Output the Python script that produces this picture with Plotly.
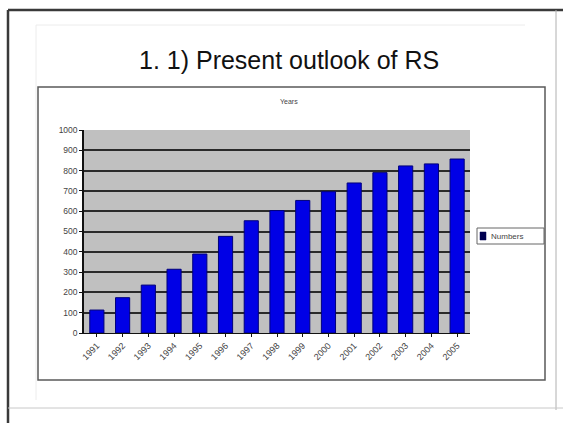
import plotly.graph_objects as go

# Data
years = ["1991", "1992", "1993", "1994", "1995", "1996", "1997", "1998",
         "1999", "2000", "2001", "2002", "2003", "2004", "2005"]
numbers = [113, 174, 236, 314, 389, 476, 553, 603,
           653, 696, 739, 790, 823, 833, 857]
y_ticks = [0, 100, 200, 300, 400, 500, 600, 700, 800, 900, 1000]
series_name = "Numbers"

W, H = 563, 423
# plot area in pixels
PL, PR, PT, PB = 84, 470, 130, 333


def px(x):
    return (x - PL) / (PR - PL)


def py(y):
    return (PB - y) / (PB - PT)


FONT = "Liberation Sans, Arial, sans-serif"
BAR_COLOR = "#0000e6"

fig = go.Figure()
fig.add_trace(go.Bar(
    x=years, y=numbers, name=series_name, showlegend=False,
    marker=dict(color=BAR_COLOR, line=dict(color="#00007a", width=1)),
))

shapes = []


def line(x0, y0, x1, y1, color, width):
    shapes.append(dict(type="line", xref="paper", yref="paper",
                       x0=px(x0), y0=py(y0), x1=px(x1), y1=py(y1),
                       line=dict(color=color, width=width)))


def rect(x0, y0, x1, y1, color, width, fill="rgba(0,0,0,0)"):
    shapes.append(dict(type="rect", xref="paper", yref="paper",
                       x0=px(x0), y0=py(y0), x1=px(x1), y1=py(y1),
                       line=dict(color=color, width=width), fillcolor=fill))


# slide frame
line(8, 10, 563, 10, "#3a3a3a", 2.5)
line(8, 10, 8, 423, "#3a3a3a", 2.5)
line(556, 10, 556, 410, "#b0b0b0", 1)
line(8, 408, 563, 408, "#c8c8c8", 1)
line(36, 25, 525, 25, "#ececec", 1)
line(36, 25, 36, 400, "#ececec", 1)

# chart box
rect(38, 87, 545, 380, "#5a5a5a", 1.5)

# legend box with its swatch
rect(477, 228, 544, 244, "#666", 1, "white")
rect(480, 232, 486, 240, "#000050", 0.5, "#000050")

fig.update_layout(
    width=W, height=H,
    margin=dict(l=PL, r=W - PR, t=PT, b=H - PB, pad=0),
    paper_bgcolor="white",
    plot_bgcolor="#c0c0c0",
    bargap=0.45,
    font=dict(family=FONT, color="#222"),
    shapes=shapes,
    showlegend=False,
    xaxis=dict(
        type="category", tickangle=-45,
        tickfont=dict(size=9, color="#444"),
        showline=True, linecolor="#111", linewidth=1,
        ticks="outside", ticklen=3, tickcolor="#111",
        showgrid=False,
    ),
    yaxis=dict(
        range=[0, 1000], tickvals=y_ticks,
        tickfont=dict(size=8.5, color="#444"),
        showline=True, linecolor="#111", linewidth=1.5,
        ticks="outside", ticklen=3, tickcolor="#111",
        showgrid=True, gridcolor="#2a2a2a", gridwidth=1.5,
        zeroline=False,
    ),
    annotations=[
        dict(text="1. 1) Present outlook of RS", xref="paper", yref="paper",
             x=px(289), y=py(60), xanchor="center", yanchor="middle",
             showarrow=False, font=dict(size=25, color="#111", family=FONT)),
        dict(text="Years", xref="paper", yref="paper",
             x=px(289), y=py(102), xanchor="center", yanchor="middle",
             showarrow=False, font=dict(size=7, color="#444", family=FONT)),
        dict(text=series_name, xref="paper", yref="paper",
             x=px(489), y=py(236), xanchor="left", yanchor="middle",
             showarrow=False, font=dict(size=8, color="#444", family=FONT)),
    ],
)

fig.write_html("out.html")
